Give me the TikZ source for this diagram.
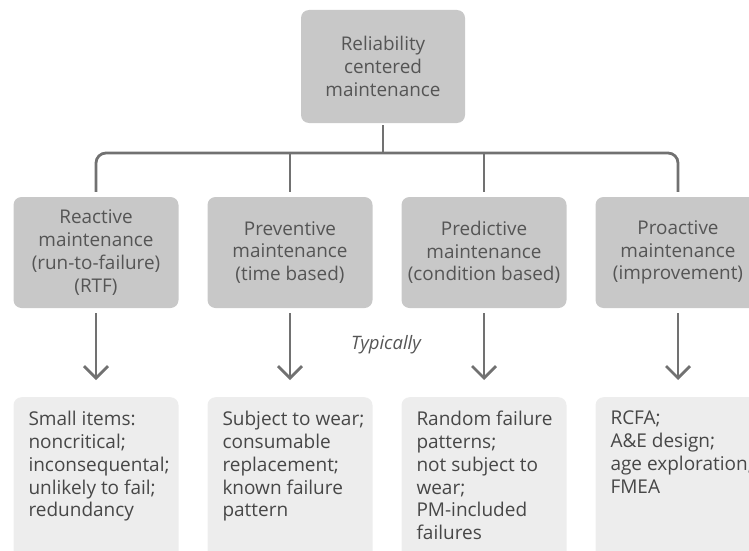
\documentclass[tikz,border=0pt]{standalone}
\usepackage{fontspec}
\setmainfont{Open Sans}
\usepackage{tikz}
\usetikzlibrary{arrows.meta,calc,positioning}
\definecolor{linegray}{HTML}{717171}
\definecolor{headfill}{HTML}{C8C8C8}
\definecolor{lowfill}{HTML}{EDEDED}
\definecolor{headtext}{HTML}{555555}
\definecolor{bodytext}{HTML}{474747}
\tikzset{
	hbox/.style={fill=headfill, rounded corners=8pt, minimum width=165pt, minimum height=111pt, inner sep=0pt, align=center, text=headtext, font=\fontsize{18.9}{22.8}\selectfont},
	lowbox/.style={fill=lowfill, rounded corners=8pt, minimum width=165pt, minimum height=190pt, anchor=north},
	lowtext/.style={anchor=north west, inner sep=0pt, align=left, text=bodytext, font=\fontsize{19}{22.8}\selectfont},
	conn/.style={draw=linegray, line width=2.8pt},
}
\begin{document}
\begin{tikzpicture}[x=1pt, y=-1pt]
		\useasboundingbox (0,0) rectangle (749,551);
		\clip (0,0) rectangle (749,551);
		% root
		\node[hbox, minimum width=164pt, minimum height=113pt] (rcm) at (383,66.5) {Reliability\\centered\\maintenance};
		\coordinate (bus) at (383,153);
		% strategies
		\foreach \i/\x/\lab in {1/96/{Reactive\\maintenance\\(run-to-failure)\\(RTF)}, 2/290/{Preventive\\maintenance\\(time based)}, 3/484/{Predictive\\maintenance\\(condition based)}, 4/678/{Proactive\\maintenance\\(improvement)}} {
			\node[hbox] (s\i) at (\x,252.5) {\lab};
			\node[lowbox] (low\i) at (\x,397) {};
		}
		% typical use
		\foreach \i/\lab in {1/{Small items:\\noncritical;\\inconsequental;\\unlikely to fail;\\redundancy}, 2/{Subject to wear;\\consumable\\replacement;\\known failure\\pattern}, 3/{Random failure\\patterns;\\not subject to\\wear;\\PM-included\\failures}, 4/{RCFA;\\A\&E design;\\age exploration;\\FMEA}}
			\node[lowtext] (t\i) at ($(low\i.north west)+(15,14)$) {\lab};
		% connectors
		\draw[conn, shorten <=2pt] (rcm.south) -- (bus);
		\draw[conn, rounded corners=10pt, shorten <=5pt, shorten >=5pt] (s1.north) |- (bus) -| (s4.north);
		\foreach \i in {2,3}
			\draw[conn, shorten >=5pt] (s\i.north |- bus) -- (s\i.north);
		\foreach \i in {1,...,4}
			\draw[conn, -{Straight Barb[length=12pt, width=24pt]}, shorten <=5pt, shorten >=17pt] (s\i.south) -- (low\i.north);
		\node[text=headtext, font=\fontsize{18.5}{22}\selectfont\itshape] (typ) at (386,345) {Typically};
	\end{tikzpicture}
\end{document}
